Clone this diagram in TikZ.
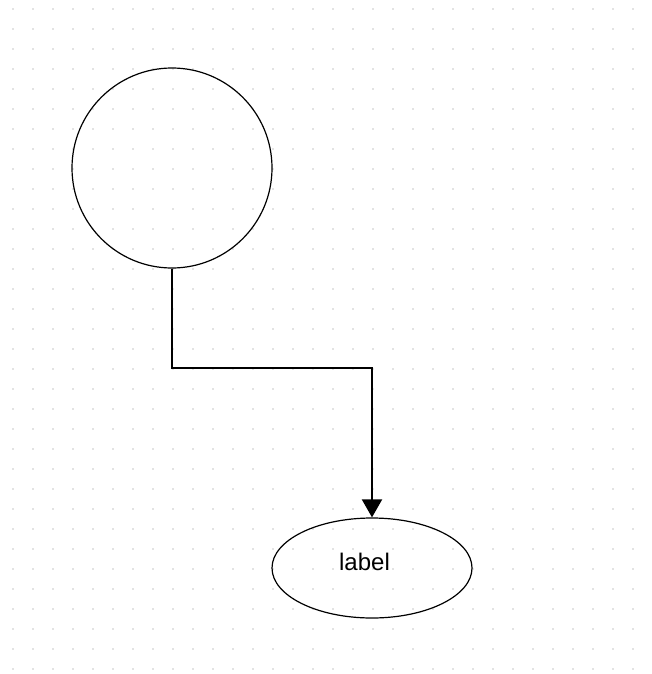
\documentclass[tikz,border=0pt]{standalone}
\usepackage{fontspec}
\setmainfont{Liberation Sans}
\usetikzlibrary{shapes.geometric,arrows.meta}
\tikzstyle{roundnode} = [circle, draw, line width=1.2pt, minimum size=200pt, inner sep=0pt]
\tikzstyle{ovalnode} = [ellipse, draw, line width=1.2pt, minimum width=200pt, minimum height=100pt, inner sep=0pt]
\tikzstyle{ovaltext} = [font=\fontsize{24pt}{28pt}\selectfont, inner sep=0pt, xshift=-7.5pt, yshift=6.5pt]
\tikzstyle{griddot} = [fill=black!22]

\begin{document}
\begin{tikzpicture}[x=1pt,y=1pt]
  \useasboundingbox (0,0) rectangle (652,-674);
  \foreach \i in {0,...,31}
    \foreach \j in {0,...,33}
      \fill[griddot] (13+20*\i, -9-20*\j) circle (0.9pt);
  \draw (172.0pt, -168.0pt)node[roundnode](0){};
  \draw (372.0pt, -568.0pt)node[ovalnode, label={[ovaltext]center:label}](1){};
  \coordinate (2) at (372.0pt, -368.0pt);
  \draw[line width=2pt, -{Triangle[length=18pt,width=20pt]}] (0.south) |- (2) -- (1.north);
\end{tikzpicture}
\end{document}
